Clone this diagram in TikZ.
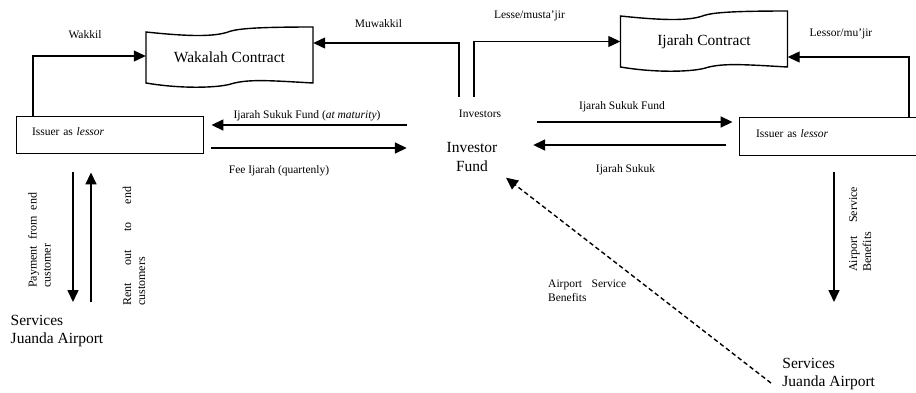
\documentclass[tikz,border=0pt]{standalone}
\usepackage{amssymb}
\usepackage{amsmath}
\usepackage{xcolor}
\usepackage{fontspec}
\setmainfont{Liberation Serif}
\usepackage{tikz}
\usetikzlibrary{arrows.meta}

\begin{document}
\begin{tikzpicture}[x=1pt,y=-1pt,
	lbl/.style={font=\fontsize{11.5}{14}\selectfont, inner sep=0pt},
	big/.style={font=\fontsize{15.5}{18}\selectfont, align=left},
	turned/.style={rotate=90, anchor=north west, inner sep=0pt, align=left, font=\fontsize{12}{14}\selectfont},
	issuer/.style={draw, line width=0.9pt, inner xsep=16pt, text depth=5pt, align=left, font=\fontsize{11.5}{14}\selectfont},
	contract/.style={font=\fontsize{15.5}{18}\selectfont, minimum width=167pt, minimum height=52pt},
	tip/.style={-{Triangle[length=12pt,width=11pt]}},
	flow/.style={tip, line width=1.6pt},
	link/.style={tip, line width=1.2pt},
	scroll/.style={line width=1.4pt}]
		\useasboundingbox (0,0) rectangle (916,392);
		\node[issuer, text width=155pt, minimum height=37pt] (issuerL) at (109.5,134.5) {Issuer as \textit{lessor}};
		\node[issuer, text width=156pt, inner xsep=17pt, minimum height=38pt] (issuerR) at (834,136) {Issuer as \textit{lessor}};
		\node[contract] (wakalah) at (229.5,57.5) {Wakalah Contract};
		\node[contract] (ijarah) at (704,41.5) {Ijarah Contract};
		\node[align=center, minimum width=130pt, font=\fontsize{15.5}{19}\selectfont] (fund) at (472,157) {Investor\\Fund};
		\node[lbl] (investors) at (480,114) {Investors};
		\node[big, anchor=north west] (servicesL) at (7.2,311.8) {Services\\Juanda Airport};
		\node[big, anchor=north west] (servicesR) at (778.9,354.4) {Services\\Juanda Airport};
		\foreach \doc in {wakalah,ijarah}
			\draw[scroll, shift={(\doc.center)}] (-83.5,-25.5) .. controls (-50,-22) and (-20,-20) .. (-3,-25) .. controls (5,-28) and (15,-30.5) .. (83.5,-30.5) -- (83.5,25.5) .. controls (40,23) and (20,21.5) .. (3,26) .. controls (-8,30) and (-45,32) .. (-83.5,25.5) -- cycle;
		\draw[link] ([xshift=-76.5pt]issuerL.north) |- ([yshift=1.5pt]wakalah.west);
		\draw[link] ([xshift=-21pt,yshift=13pt]investors.north) |- ([yshift=14.5pt]wakalah.east);
		\draw[link] ([xshift=-6pt,yshift=13pt]investors.north) |- (ijarah.west);
		\draw[link] ([xshift=75pt]issuerR.north) |- ([yshift=-15.5pt]ijarah.east);
		\draw[flow] ([yshift=32pt]fund.west) -- ([xshift=8pt,yshift=9.5pt]issuerL.east);
		\draw[flow] ([xshift=8pt,yshift=-13.5pt]issuerL.east) -- ([yshift=9pt]fund.west);
		\draw[flow] ([yshift=35pt]fund.east) -- ([xshift=-6pt,yshift=14pt]issuerR.west);
		\draw[flow] ([xshift=-13pt,yshift=-9pt]issuerR.west) -- ([xshift=-4pt,yshift=12pt]fund.east);
		\draw[flow] ([xshift=-36.5pt,yshift=-19pt]issuerL.south) -- ([xshift=65.8pt,yshift=9.8pt]servicesL.north west);
		\draw[flow] ([xshift=83.8pt,yshift=9.8pt]servicesL.north west) -- ([xshift=-18.5pt,yshift=-19pt]issuerL.south);
		\draw[flow] ([yshift=-17pt]issuerR.south) -- ([xshift=55.1pt,yshift=52.4pt]servicesR.north west);
		\draw[tip, line width=1.4pt, dash pattern=on 4.5pt off 3pt] ([xshift=-7.9pt,yshift=10pt]servicesR.south west) -- ([xshift=34pt,yshift=-2.5pt]fund.south);
		\node[lbl] (wakkil) at (85,35) {Wakkil};
		\node[lbl] (muwakkil) at (378.5,24) {Muwakkil};
		\node[lbl] (lesse) at (529.5,16.3) {Lesse/musta’jir};
		\node[lbl] (lessor) at (841,33.5) {Lessor/mu’jir};
		\node[lbl] (maturity) at (307,115.3) {Ijarah Sukuk Fund (\textit{at maturity})};
		\node[lbl] (fee) at (279,170.8) {Fee Ijarah (quartenly)};
		\node[lbl] (sukukfund) at (622,106.5) {Ijarah Sukuk Fund};
		\node[lbl] (sukuk) at (625.5,170) {Ijarah Sukuk};
		\node[lbl, text width=78pt, align=left, anchor=north west] (benefitsD) at (548,280) {Airport\hfill Service\\Benefits};
		\node[turned, text width=95pt] (payment) at (28,288) {Payment\hfill from\hfill end\\customer};
		\node[turned, text width=119pt] (rent) at (122.5,306) {Rent\hfill out\hfill to\hfill end\\customers};
		\node[turned, text width=85pt] (benefitsR) at (849,272) {Airport\hfill Service\\Benefits};
\end{tikzpicture}
\end{document}
